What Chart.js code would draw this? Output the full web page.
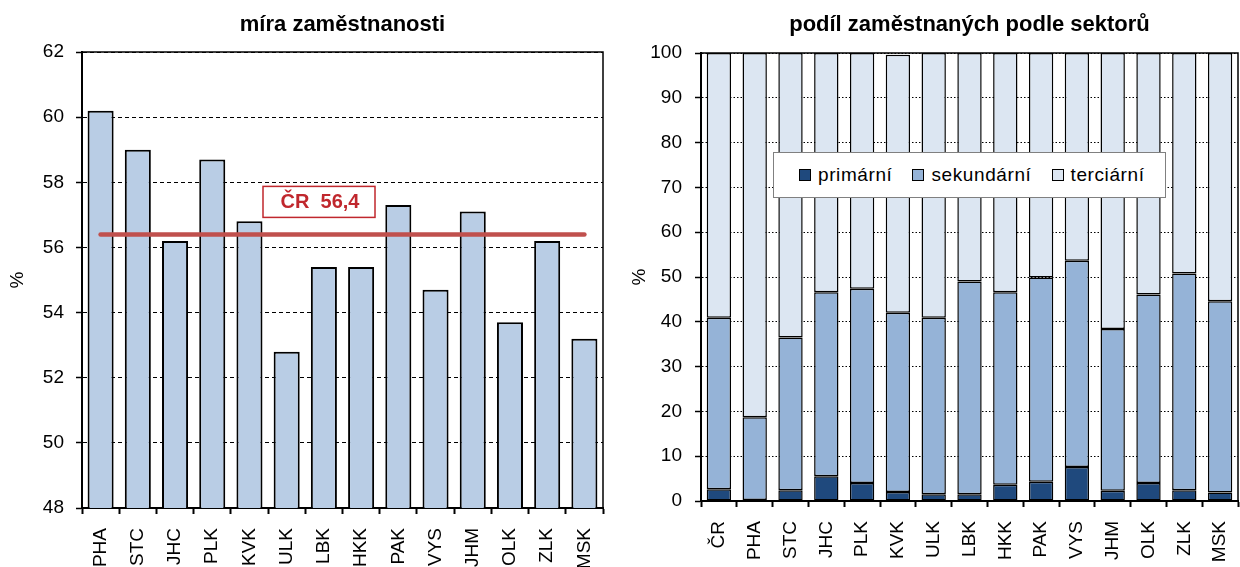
<!DOCTYPE html>
<html>
<head>
<meta charset="utf-8">
<script src="https://cdn.jsdelivr.net/npm/chart.js@4.4.1/dist/chart.umd.min.js"></script>
<style>
  html, body { margin: 0; padding: 0; background: #fff; }
  #wrap { position: relative; width: 1240px; height: 567px; overflow: hidden; font-family: "Liberation Sans", Arial, sans-serif; }
  #left { position: absolute; left: 0; top: 0; }
  #right { position: absolute; left: 620px; top: 0; }
  #legend { position: absolute; left: 773px; top: 152px; width: 393px; height: 46px; box-sizing: border-box;
            border: 1px solid #808080; background: #fff; display: flex; align-items: center; padding-left: 25px; }
  #legend .item { display: flex; align-items: center; margin-right: 20px; font-size: 19px; letter-spacing: 0.6px; color: #000; }
  #legend .box { width: 10px; height: 10px; border: 1px solid #000; margin-right: 7px; }
</style>
</head>
<body>
<div id="wrap">
  <canvas id="left" width="620" height="567"></canvas>
  <canvas id="right" width="620" height="567"></canvas>
  <div id="legend"></div>
</div>
<script>
const FONT = '"Liberation Sans", Arial, sans-serif';

// left chart - employment rate by region
const regions = ["PHA", "STC", "JHC", "PLK", "KVK", "ULK", "LBK", "HKK", "PAK", "VYS", "JHM", "OLK", "ZLK", "MSK"];
const employmentRate = [60.2, 59.0, 56.2, 58.7, 56.8, 52.8, 55.4, 55.4, 57.3, 54.7, 57.1, 53.7, 56.2, 53.2];
const czAverage = 56.4;

// right chart - share of employed by sector
const sectorRegions = ["ČR", "PHA", "STC", "JHC", "PLK", "KVK", "ULK", "LBK", "HKK", "PAK", "VYS", "JHM", "OLK", "ZLK", "MSK"];
const primary   = [2.6, 0.2, 2.4, 5.5, 4.0, 2.0, 1.5, 1.5, 3.6, 4.3, 7.6, 2.3, 4.0, 2.4, 1.9];
const secondary = [38.3, 18.5, 34.1, 41.1, 43.4, 40.0, 39.4, 47.5, 43.0, 45.6, 46.0, 36.1, 42.1, 48.4, 42.7];
const tertiary  = [59.1, 81.3, 63.5, 53.4, 52.6, 57.6, 59.1, 51.0, 53.4, 50.1, 46.4, 61.6, 53.9, 49.2, 55.4];
const sectorNames = ["primární", "sekundární", "terciární"];
const sectorColors = ["#1F497D", "#95B3D7", "#DCE6F2"];

// title centered over the plot area
const panelTitle = {
  id: "panelTitle",
  afterDraw(chart, args, opts) {
    const { ctx, chartArea } = chart;
    ctx.save();
    ctx.font = "bold 22px " + FONT;
    ctx.fillStyle = "#000";
    ctx.textAlign = "center";
    ctx.textBaseline = "alphabetic";
    ctx.fillText(opts.text, (chartArea.left + chartArea.right) / 2, opts.baseline);
    ctx.restore();
  }
};

// solid top and right edge of the plot area
const plotFrame = {
  id: "plotFrame",
  afterDatasetsDraw(chart) {
    const { ctx, chartArea } = chart;
    ctx.save();
    ctx.strokeStyle = "#000";
    ctx.lineWidth = 1.5;
    ctx.beginPath();
    ctx.moveTo(chartArea.left, chartArea.top);
    ctx.lineTo(chartArea.right, chartArea.top);
    ctx.lineTo(chartArea.right, chartArea.bottom);
    ctx.stroke();
    ctx.restore();
  }
};

// boxed label for the national average
const avgLabel = {
  id: "avgLabel",
  afterDatasetsDraw(chart, args, opts) {
    const { ctx, chartArea } = chart;
    const y = chart.scales.y.getPixelForValue(opts.value);
    const x = chartArea.left + 181;
    ctx.save();
    ctx.fillStyle = "#fff";
    ctx.fillRect(x, y - 48, 112, 31);
    ctx.strokeStyle = "#C0272D";
    ctx.lineWidth = 1.5;
    ctx.strokeRect(x, y - 48, 112, 31);
    ctx.fillStyle = "#C0272D";
    ctx.font = "bold 20px " + FONT;
    ctx.textAlign = "center";
    ctx.textBaseline = "middle";
    ctx.fillText(opts.text, x + 57, y - 32);
    ctx.restore();
  }
};

function yAxis(min, max, step, width, dash, titlePad, tickPad) {
  return {
    min: min, max: max,
    afterFit: s => { s.width = width; },
    ticks: { stepSize: step, color: "#000", font: { size: 19, family: FONT }, padding: tickPad },
    grid: { color: "#000", lineWidth: 1, tickLength: 6, tickColor: "#000", tickWidth: 1.5, tickBorderDash: [] },
    border: { color: "#000", width: 2, dash: dash },
    title: { display: true, text: "%", color: "#000", font: { size: 19, family: FONT }, padding: { top: titlePad, bottom: 0 } }
  };
}

function xAxis(height, pad) {
  return {
    offset: true,
    afterFit: s => { s.height = height; s.paddingLeft = 0; s.paddingRight = 0; },
    ticks: { minRotation: 90, maxRotation: 90, autoSkip: false, color: "#000", font: { size: 19, family: FONT }, padding: pad },
    grid: { offset: true, drawOnChartArea: false, tickLength: 6, tickColor: "#000", tickWidth: 2 },
    border: { color: "#000", width: 2 }
  };
}

new Chart(document.getElementById("left"), {
  type: "bar",
  data: {
    labels: regions,
    datasets: [
      {
        type: "line",
        label: "ČR",
        data: regions.map(() => czAverage),
        borderColor: "#C0504D",
        borderWidth: 4.5,
        borderCapStyle: "round",
        pointRadius: 0,
        order: 0
      },
      {
        label: "míra zaměstnanosti",
        data: employmentRate,
        backgroundColor: "#B9CDE5",
        borderColor: "#000",
        borderWidth: 2,
        borderSkipped: false,
        barPercentage: 0.7,
        categoryPercentage: 1,
        order: 1
      }
    ]
  },
  options: {
    responsive: false,
    animation: false,
    devicePixelRatio: 1,
    layout: { padding: { top: 52, right: 17, left: 0, bottom: 0 } },
    plugins: {
      legend: { display: false },
      tooltip: { enabled: false },
      panelTitle: { text: "míra zaměstnanosti", baseline: 31 },
      avgLabel: { value: czAverage, text: "ČR  " + czAverage.toFixed(1).replace(".", ",") }
    },
    scales: {
      x: xAxis(59, 14),
      y: yAxis(48, 62, 2, 82, [4, 3], 6, 12)
    }
  },
  plugins: [panelTitle, plotFrame, avgLabel]
});

const sectorData = [primary, secondary, tertiary];

const rightChart = new Chart(document.getElementById("right"), {
  type: "bar",
  data: {
    labels: sectorRegions,
    datasets: sectorNames.map((name, i) => ({
      label: name,
      data: sectorData[i],
      backgroundColor: sectorColors[i],
      borderColor: "#000",
      borderWidth: 1.5,
      borderSkipped: false,
      barPercentage: 0.68,
      categoryPercentage: 1
    }))
  },
  options: {
    responsive: false,
    animation: false,
    devicePixelRatio: 1,
    layout: { padding: { top: 53, right: 2, left: 0, bottom: 0 } },
    plugins: {
      legend: { display: false },
      tooltip: { enabled: false },
      panelTitle: { text: "podíl zaměstnaných podle sektorů", baseline: 31 }
    },
    scales: {
      x: Object.assign(xAxis(66, 14), { stacked: true }),
      y: Object.assign(yAxis(0, 100, 10, 81, [1.5, 2], 8, 13), { stacked: true })
    }
  },
  plugins: [panelTitle, plotFrame]
});

// html legend built from the chart's datasets
const legendEl = document.getElementById("legend");
rightChart.data.datasets.forEach(ds => {
  const item = document.createElement("div");
  item.className = "item";
  const box = document.createElement("span");
  box.className = "box";
  box.style.background = ds.backgroundColor;
  const txt = document.createElement("span");
  txt.textContent = ds.label;
  item.appendChild(box);
  item.appendChild(txt);
  legendEl.appendChild(item);
});
</script>
</body>
</html>
